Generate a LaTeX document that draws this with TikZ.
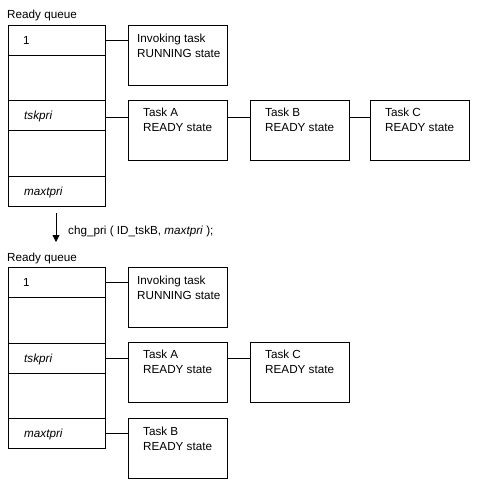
\documentclass[tikz,border=0pt]{standalone}
\usepackage{fontspec}
\setmainfont{Liberation Sans}
\usetikzlibrary{arrows.meta}
\begin{document}
\begin{tikzpicture}[x=1pt,y=-1pt,
  cell/.style={draw, line width=0.8pt, anchor=north west, minimum width=97pt, inner sep=0pt, outer sep=0pt},
  tbox/.style={draw, line width=0.8pt, anchor=north west, minimum width=99pt, minimum height=60pt, inner sep=0pt, outer sep=0pt},
  btxt/.style={anchor=north west, inner sep=0pt, align=left, font=\fontsize{11.7}{15}\selectfont},
  qtxt/.style={anchor=west, inner sep=0pt, text height=8pt, text depth=2.4pt, yshift=-2pt, font=\fontsize{11.7}{14}\selectfont},
  link/.style={line width=0.8pt},
  hdr/.style={anchor=base west, inner sep=0pt, font=\fontsize{11.7}{14}\selectfont}
]
\useasboundingbox (0,0) rectangle (478,488);

% ---------- top ----------
\node[hdr] (h1) at (7,18) {Ready queue};
\node[cell, minimum height=30pt] (a1) at (8,25) {};
\node[cell, minimum height=45pt] (a2) at (8,55) {};
\node[cell, minimum height=30pt] (a3) at (8,100) {};
\node[cell, minimum height=46pt] (a4) at (8,130) {};
\node[cell, minimum height=30pt] (a5) at (8,176) {};
\node[qtxt] (a1t) at ([xshift=15pt]a1.west) {1};
\node[qtxt] (a3t) at ([xshift=16pt]a3.west) {\itshape tskpri};
\node[qtxt] (a5t) at ([xshift=16pt]a5.west) {\itshape maxtpri};

\node[tbox] (ainv) at (128,25) {};
\node[btxt] (ainvt) at (137,34) {Invoking task\\RUNNING state};
\node[tbox] (aA) at (128,100) {};
\node[btxt] (aAt) at (143,108) {Task A\\READY state};
\node[tbox] (aB) at (250,100) {};
\node[btxt] (aBt) at (265,108) {Task B\\READY state};
\node[tbox] (aC) at (370,100) {};
\node[btxt] (aCt) at (385,108) {Task C\\READY state};

\draw[link] (a1.east) -- (a1.east -| ainv.west);
\draw[link] ([yshift=-2pt]a3.east) -- ([yshift=-2pt]a3.east -| aA.west);
\draw[link] ([yshift=-2pt]a3.east -| aA.east) -- ([yshift=-2pt]a3.east -| aB.west);
\draw[link] ([yshift=-2pt]a3.east -| aB.east) -- ([yshift=-2pt]a3.east -| aC.west);

% ---------- arrow ----------
\coordinate (ar1) at (56,213);
\coordinate (ar2) at (56,242);
\draw[link, -{Triangle[length=7pt,width=7pt]}] (ar1) -- (ar2);
\node[hdr] (call) at (68,234) {chg\_pri ( ID\_tskB, \textit{maxtpri} );};

% ---------- bottom ----------
\node[hdr] (h2) at (7,261) {Ready queue};
\node[cell, minimum height=30pt] (b1) at (8,267) {};
\node[cell, minimum height=46pt] (b2) at (8,297) {};
\node[cell, minimum height=30pt] (b3) at (8,343) {};
\node[cell, minimum height=45pt] (b4) at (8,373) {};
\node[cell, minimum height=30pt] (b5) at (8,418) {};
\node[qtxt] (b1t) at ([xshift=15pt]b1.west) {1};
\node[qtxt] (b3t) at ([xshift=16pt]b3.west) {\itshape tskpri};
\node[qtxt] (b5t) at ([xshift=16pt]b5.west) {\itshape maxtpri};

\node[tbox] (binv) at (128,267) {};
\node[btxt] (binvt) at (137,276) {Invoking task\\RUNNING state};
\node[tbox] (bA) at (128,342) {};
\node[btxt] (bAt) at (143,350) {Task A\\READY state};
\node[tbox] (bC) at (250,342) {};
\node[btxt] (bCt) at (265,350) {Task C\\READY state};
\node[tbox] (bB) at (128,418) {};
\node[btxt] (bBt) at (143,427) {Task B\\READY state};

\draw[link] (b1.east) -- (b1.east -| binv.west);
\draw[link] (b3.east) -- (b3.east -| bA.west);
\draw[link] (b3.east -| bA.east) -- (b3.east -| bC.west);
\draw[link] (b5.east) -- (b5.east -| bB.west);
\end{tikzpicture}
\end{document}
